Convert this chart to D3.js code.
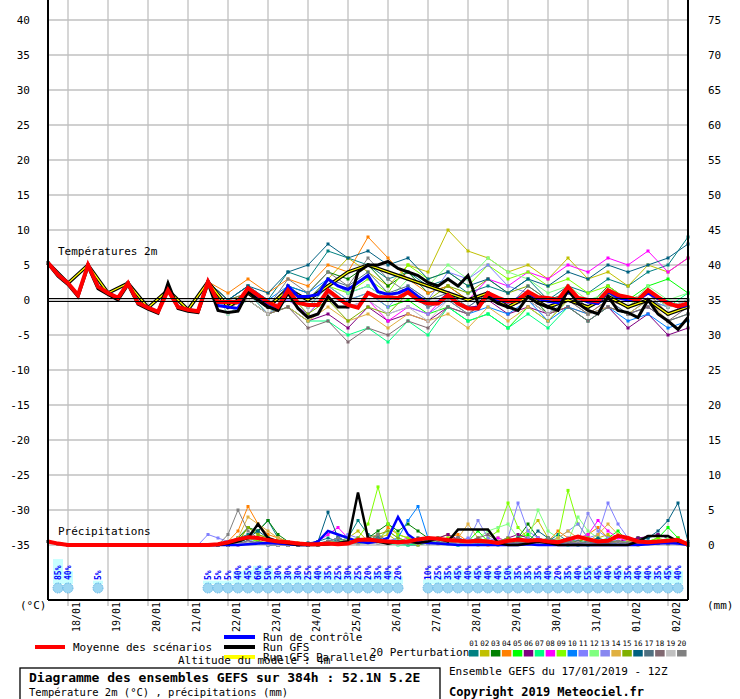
<!DOCTYPE html>
<html>
<head>
<meta charset="utf-8">
<script src="https://cdn.jsdelivr.net/npm/d3@7"></script>
<style>
body { margin: 0; background: #fff; }
text { font-family: "DejaVu Sans Mono", monospace; font-size: 11px; }
</style>
</head>
<body>
<div id="container"></div>
<script>
"use strict";

// time steps: 6h from 17/01 12Z (index 0) to 02/02 12Z (index 64)
const DAYS = ["18/01", "19/01", "20/01", "21/01", "22/01", "23/01", "24/01", "25/01",
    "26/01", "27/01", "28/01", "29/01", "30/01", "31/01", "01/02", "02/02"];
const TEMP_TICKS = [40, 35, 30, 25, 20, 15, 10, 5, 0, -5, -10, -15, -20, -25, -30, -35];
const PREC_TICKS = [75, 70, 65, 60, 55, 50, 45, 40, 35, 30, 25, 20, 15, 10, 5, 0];

const MEMBER_COLORS = ["#008080", "#c0c000", "#008000", "#ff8000", "#00ff00", "#800080", "#00ff80",
    "#ff00ff", "#80ff00", "#0080ff", "#8080ff", "#80ff80", "#8888f0", "#e0b040", "#80b000",
    "#006080", "#507080", "#806870", "#c0c0c0", "#808080"];

const tempMean = [5.3, 3.6, 2.4, 0.7, 5, 1.9, 1, 0.3, 2.4, -0.4, -1.1, -1.7, 1.4, -1, -1.4, -1.6, 2.6,
    -0.3, -0.3, -0.3, 1.7, 0.7, -0.3, -1, 1.4, -0.4, -0.7, -0.7, 1.4, 0.3, -0.7, -1.1, 1,
    0.4, 0.4, 0.3, 1.1, 0, -0.5, -0.5, 0.7, -0.5, -1.2, -1.2, 1, 0.3, -0.2, 0, 1.2, 0.4, 0.3, 0,
    1.9, 0.3, 0, -0.2, 1.4, 0.7, 0.4, 0, 1.4, 0.4, -0.5, -0.9, -0.5];
const tempControl = tempMean.slice(0, 17).concat([-0.8, -1, -1.2, 1.5, 0.5, -0.5, -1.2, 2, 0.5, 0.5, 0.8, 3, 2, 1.5, 2.5, 3.5,
    1.2, 0.8, 1, 1.6, 0.5, -0.5, -0.3, 0.8, -0.5, -1.2, -1, 0.8, 0, -0.3, 0.2, 1, 0.2, -0.2, -0.4, 1.2,
    0.3, -0.3, -0.5, 1.2, 0.3, 0, 0, 1.0, 0.2, -0.3, -1, -0.8]);
const tempGfs = [5.2, 3.4, 2.2, 0.5, 4.8, 1.6, 0.8, 0, 2.2, -0.6, -1.3, -1.9, 2.4, -1.2, -1.6, -1.8, 2.4,
    -1.5, -1.8, -1.6, 1.2, 0, -1, -1.5, 1, -1.2, -2.5, -2, 0.5, -1, -1, 4, 5,
    5, 5.5, 4.5, 4, 3.5, 2.5, 2, 3, 2, 3.5, -0.5, 0.5, -0.5, -1, -1.5, 0.5, -0.5, -1, -1.5, 1.5,
    -0.5, -1.5, -2, 0.5, -1.5, -1.8, -2.5, 0, -2, -3, -4.2, -2.5];

// perturbations: 12h steps; shared start then per member
const tempEarly12 = [5.3, 2.4, 5, 1, 2.4, -1.1, 1.4, -1.4, 2.6];
const tempParallel = [-1, 1, -1, 1.5, 0, 2, 4, 5, 4, 3, 2, 1, 0, 1, -1, 0.5, -1, 0, -1, 0.5, -1, 0, -2, -1];
const tempMembers = [
    [0, 2, 0, 4, 3, 7, 6, 5, 3, 4, 2, 3, 1, 2, 1, 3, 0, 2, 1, 3, 2, 4, 5, 9],
    [0, 2, -1, 1, 0, 3, 6, 4, 2, 5, 4, 10, 7, 6, 4, 5, 3, 6, 3, 4, 2, 5, 4, 6],
    [-1, 1, -1, 2, 1, 4, 3, 5, 2, 4, 1, 2, 0, 1, -1, 1, -2, 0, -1, 2, 0, 1, -1, 0],
    [1, 3, 1, 3, 2, 5, 4, 9, 6, 3, 1, 2, 0, 1, -1, 0, -2, -1, -2, 0, -1, 1, -2, -1],
    [-1, 1, -2, 0, -1, 2, 0, 1, -1, 0, -2, -1, -3, -2, -4, -1, -3, 0, -1, 1, 0, 2, 3, 1],
    [-1, 0, -2, -1, -3, -2, -4, -1, -3, -2, -3, -1, -2, 0, -2, -1, -2, -1, -3, -1, -4, -2, -5, -4],
    [-2, 0, -2, -1, -3, -3, -5, -4, -6, -3, -5, -1, -3, -2, -4, -2, -4, -1, -3, -1, -2, 0, -1, 1],
    [0, 1, -1, 0, -2, 1, -1, 0, -3, -1, -2, 1, 0, 3, 2, 4, 3, 5, 4, 6, 5, 7, 4, 6],
    [-1, 1, -1, 1, 0, 2, 1, 3, 1, 5, 3, 4, 2, 5, 3, 4, 2, 3, 1, 2, 0, 1, -1, 0],
    [0, 2, 0, 2, 1, 3, 1, 2, 0, 1, -1, 0, -2, -1, -2, 0, -3, -1, -2, -1, -3, -2, -4, -3],
    [0, 1, -1, 1, -1, 2, 0, 1, -1, 2, 0, 4, 3, 5, 2, 1, -1, 0, -2, -1, -2, 0, -1, 0],
    [-1, 0, -2, 1, 0, 3, 1, 2, 0, 3, 2, 5, 3, 6, 4, 3, 1, 2, 0, 1, -1, 2, 0, 1],
    [-1, 1, -2, 0, -2, 1, -1, 0, -2, -1, -2, 0, -1, 1, -1, 0, -2, 1, -1, 0, -2, -1, -3, -2],
    [-1, 0, -2, -1, -3, -1, -3, -2, -4, -2, -3, -2, -4, -1, -3, -1, -3, 0, -2, -1, -2, 0, -3, -2],
    [0, 1, -1, 1, -2, 0, -3, -1, -2, 1, 0, 2, 1, 3, 1, 2, 0, 1, -1, 1, -1, 0, -2, -1],
    [0, 2, 1, 4, 5, 8, 6, 7, 5, 6, 3, 4, 2, 3, 1, 3, 2, 4, 3, 5, 4, 5, 6, 8],
    [-1, 1, -1, 2, 0, 3, 2, 4, 1, 2, 0, 1, -1, 1, -1, 2, 0, 1, -1, 0, -2, -1, -3, -2],
    [-1, 0, -2, -1, -4, -3, -6, -4, -5, -3, -4, -1, -2, 0, -1, 0, -2, -1, -3, -1, -2, -1, -3, -1],
    [-2, 0, -2, 1, -1, 1, -1, 0, -2, -1, -3, 0, -2, 1, -1, 0, -2, 0, -1, 1, 0, 1, -1, 0],
    [-1, 1, -1, 3, 1, 4, 2, 6, 3, 1, -1, 0, -2, 0, -1, 1, -1, 0, -2, 0, -1, 1, -2, -1]
];

// precipitation (mm), 6h steps; early part shared, then from index 16
const precEarly = [0.5, 0.2, 0, 0, 0, 0, 0, 0, 0, 0, 0, 0, 0, 0, 0, 0];
const precMean = [0, 0.1, 0.4, 0.8, 1.1, 1, 0.7, 0.5, 0.4, 0.2, 0.1, 0.1, 0.2, 0.1, 0.2, 0.7, 0.8, 0.6, 0.5, 0.4,
    0.5, 0.8, 1, 0.9, 0.7, 0.6, 0.5, 0.6, 0.5, 0.3, 0.6, 0.8, 0.6, 0.7, 0.5, 0.4, 0.8, 1.2, 0.8, 0.5,
    0.6, 1.3, 1.0, 0.5, 0.4, 0.5, 0.6, 0.7, 0.1];
const precControl = [0, 0, 0, 0, 0.1, 0.2, 0.3, 0.2, 0.1, 0, 0, 0.5, 2, 1.5, 1, 0.5, 0.3, 0.5, 1, 4,
    1.5, 0.5, 0.3, 0.2, 0.1, 0, 0, 0, 0, 0, 0, 0, 0.1, 0, 0, 0, 0, 0, 0, 0, 0, 0, 0, 0, 0.1, 0.2, 0.3, 0.2, 0];
const precGfs = [0, 0, 0.2, 0.5, 1, 3, 1, 0.5, 0.2, 0, 0, 0, 0.1, 0.3, 0.5, 7.5, 1, 0.5, 0.2, 0.5,
    0.5, 0.3, 0.5, 1, 0.5, 2.2, 2.2, 2.2, 2.2, 0.3, 0, 0, 0.2, 0.5, 0.3, 0, 0, 0, 0, 0,
    0, 0, 0, 0.5, 1.3, 1.3, 1.3, 0.5, 0.1];
const precMembers = [
    [0, 0, 0.5, 1, 1.5, 2, 3.5, 1, 0.5, 0, 0.2, 0.5, 1, 0.5, 1, 3.5, 1.5, 1, 0.5, 0.2, 0, 0, 0.3, 0.5, 0.2, 0, 0.5, 0.3, 0.2, 0, 0.5, 1, 0.5, 0.2, 0.5, 1.5, 0.5, 0, 0, 0.2, 0.5, 0.3, 0.5, 1, 1, 1.5, 1, 0.5, 0.2],
    [0, 0, 0, 0.5, 2.5, 1.5, 1, 0.5, 0, 0, 0, 0.3, 0.2, 0.5, 1, 2, 0.5, 1, 1.5, 0.5, 0.3, 0, 0.5, 1, 1.5, 0.5, 0.2, 0, 0.5, 1, 0.5, 1, 2, 3.5, 1, 0.5, 0.3, 0.2, 0.5, 1, 1.5, 0.5, 0.3, 0, 0.2, 0.5, 0.8, 1, 0],
    [0, 0, 0.3, 1, 2.5, 2, 3.5, 1.5, 0.5, 0, 0, 0.2, 0.5, 1, 0.5, 0.3, 1, 2, 3, 2, 3, 2, 1, 0.5, 0.3, 0.2, 0.5, 1, 0.5, 0.2, 0.5, 1, 3, 1, 0.5, 0.2, 0.3, 0.5, 1, 0.5, 0.3, 0.2, 0.5, 1, 0.5, 0.3, 0.2, 0.5, 0],
    [0, 0, 0.5, 2, 5.5, 3, 1.5, 1, 0.5, 0.3, 0.2, 0, 0.3, 0.5, 0.2, 0.5, 1, 0.5, 2.5, 1.5, 1, 0.5, 0.3, 0.5, 1, 1.5, 0.5, 0.2, 0, 0.3, 0.5, 1, 0.5, 0.3, 0.5, 2, 1, 0.5, 1.5, 2.5, 1, 0.5, 0.3, 0.2, 0.5, 0.3, 0.5, 1, 0.2],
    [0, 0, 0, 0.3, 1, 0.5, 0.2, 0, 0, 0, 0, 0.1, 0.2, 0.5, 0.3, 0.2, 0.5, 1, 0.5, 0.3, 0.2, 0.5, 1, 0.5, 0.2, 0.3, 0.5, 2, 0.5, 0.3, 0.5, 1, 1.5, 0.5, 0.3, 0.5, 0.8, 0.5, 0.3, 0.5, 1, 2, 0.5, 0.3, 0.5, 1, 2.5, 1, 0],
    [0, 0, 0, 0, 0.2, 0.5, 0.3, 0.2, 0, 0, 0, 0, 0.2, 0.3, 0.5, 0.2, 0.5, 1, 0.5, 0.3, 0.2, 0.3, 0.5, 1, 1.5, 0.8, 0.5, 0.3, 0.2, 0.5, 1, 1.5, 1, 0.5, 0.3, 0.2, 0.5, 0.3, 0.2, 0.5, 0.3, 0.5, 0.8, 1, 1.2, 1.5, 1, 0.5, 0],
    [0, 0, 0, 0.2, 0.5, 0.3, 0, 0, 0, 0, 0, 0, 0.3, 0.5, 0.3, 0.2, 0.3, 0.5, 0.2, 0, 0, 0.2, 0.5, 0.3, 0.2, 0, 0.3, 0.5, 0.2, 0.3, 0.5, 0.3, 0.2, 0.5, 0.3, 0.2, 0, 0.3, 0.5, 0.2, 0.3, 0.2, 0.5, 0.3, 0.2, 0.3, 0.5, 0.3, 0],
    [0, 0, 0, 0.2, 0.5, 0.3, 0.2, 0, 0, 0, 0, 0.5, 1.5, 2.5, 1, 0.5, 1, 0.5, 0.3, 0.5, 1, 0.5, 0.3, 0.2, 0.5, 1, 0.5, 0.3, 0.5, 1, 0.5, 0.3, 0.5, 1, 0.5, 0.3, 0.5, 1, 1.5, 3.5, 2, 1, 0.5, 0.3, 0.2, 0.5, 0.3, 0.2, 0],
    [0, 0, 0, 0.5, 1, 0.5, 0.3, 0.2, 0, 0, 0, 0.2, 0.5, 1, 0.5, 1, 3, 8.3, 3, 1.5, 1, 0.5, 0.3, 0.5, 1, 0.5, 0.3, 0.5, 1, 2, 6, 2.5, 1, 0.5, 0.3, 1, 7.8, 3, 1, 0.5, 0.3, 0.5, 0.2, 0.3, 0.5, 1, 0.5, 0.3, 0],
    [0, 0, 0, 0.2, 0.5, 0.3, 0.2, 0, 0, 0, 0, 0.3, 0.5, 1, 0.5, 0.3, 1, 1.5, 0.5, 1, 3.5, 5.5, 1, 0.5, 0.3, 0.2, 0.5, 0.3, 0.2, 0.3, 0.5, 1, 0.5, 0.3, 0.2, 0.5, 0.3, 0.2, 0.5, 0.3, 0.2, 0.3, 0.5, 0.3, 0.2, 0.5, 0.3, 0.2, 0],
    [1.5, 1, 0.5, 0.3, 0.5, 1, 0.5, 0.2, 0, 0, 0, 0.2, 0.5, 1, 1.5, 1, 0.5, 0.3, 0.5, 1, 0.5, 0.3, 0.2, 0.5, 0.3, 0.5, 1, 0.5, 0.3, 0.5, 1, 6, 2, 1, 0.5, 1, 2, 3, 1, 1.5, 6, 3, 1, 0.5, 0.3, 0.5, 0.2, 0.3, 0],
    [0, 0, 0, 0.2, 0.5, 0.3, 0.2, 0, 0, 0, 0, 0.2, 0.3, 0.5, 1, 0.5, 0.3, 1, 2, 1, 0.5, 0.3, 0.2, 0.5, 0.3, 0.5, 0.3, 1, 2, 2.5, 3, 1, 0.5, 5, 2, 1, 0.5, 4, 2, 1, 0.5, 0.3, 0.5, 0.3, 0.2, 0.5, 1, 0.5, 0],
    [0, 0, 0, 0.2, 0.4, 0.3, 0, 0, 0, 0, 0, 0, 0.3, 0.5, 0.3, 0.5, 1, 0.5, 0.3, 0.5, 0.5, 0.3, 0.2, 1, 0.5, 0.3, 0.5, 3.5, 1, 0.5, 0.3, 0.5, 1, 0.5, 0.3, 0.5, 1, 0.5, 4.5, 2, 1, 0.5, 0.3, 0.2, 0.5, 0.3, 0.2, 0.5, 0],
    [0, 0, 0, 1, 4, 3, 2, 1, 0.5, 0.3, 0.2, 0, 0.3, 0.5, 0.3, 0.5, 1, 1.5, 0.5, 0.3, 0.5, 1, 0.5, 0.3, 0.5, 1, 3, 1, 0.5, 0.3, 0.5, 0.3, 0.2, 0.5, 0.3, 1, 2, 1, 0.5, 1.5, 3, 1.5, 0.5, 0.3, 0.5, 0.3, 0.2, 0.5, 0],
    [0, 0, 0, 0.5, 2.5, 1.5, 1, 0.5, 0, 0, 0, 0.2, 0.5, 0.3, 0.5, 1, 0.5, 1.5, 2, 1, 0.5, 0.3, 0.5, 1, 0.5, 0.3, 0.2, 0.5, 0.3, 0.5, 1, 0.5, 0.3, 0.5, 1, 0.5, 0.3, 0.5, 1, 0.5, 0.3, 0.5, 0.3, 0.2, 0.5, 0.3, 0.2, 0.5, 0],
    [0, 0, 0, 0.3, 1, 2, 1, 0.5, 0.3, 0.2, 0.3, 0.5, 4.7, 1, 0.5, 0.3, 0.5, 1, 0.5, 0.3, 0.5, 1, 0.5, 0.3, 0.5, 1, 0.5, 0.3, 0.2, 0.5, 0.5, 1, 0.5, 2, 1, 0.5, 0.3, 0.2, 0.5, 1, 0.5, 0.3, 0.2, 0.5, 1, 2, 3.5, 6, 0.5],
    [0, 0, 0, 0.3, 0.5, 0.3, 0.2, 0, 0, 0, 0, 0.2, 0.3, 0.5, 0.3, 0.2, 0.5, 1, 0.5, 0.3, 0.2, 0.3, 0.5, 0.3, 0.2, 0.5, 0.3, 0.2, 0.5, 0.3, 0.2, 0.5, 0.3, 0.2, 0.5, 0.3, 0.2, 0.5, 0.3, 0.2, 0.5, 0.3, 0.2, 0.5, 0.3, 0.2, 0.5, 0.3, 0],
    [0, 0, 0, 0.2, 0.5, 0.3, 0, 0, 0, 0, 0, 0, 0.2, 0.3, 0.5, 0.3, 0.5, 0.3, 0.2, 0.3, 0.5, 0.3, 0.2, 0.3, 0.5, 0.3, 0.5, 1, 1.5, 0.5, 0.3, 0.2, 0.5, 0.3, 0.2, 0.3, 0.5, 0.3, 0.2, 0.3, 0.5, 0.3, 0.2, 0.3, 0.5, 0.3, 0.2, 0.3, 0],
    [0, 0, 0, 0.2, 0.3, 0.2, 0.1, 0, 0, 0, 0, 0.1, 0.2, 0.3, 0.2, 0.1, 0.2, 0.3, 0.2, 0.1, 0.2, 0.3, 0.2, 0.1, 0.2, 0.3, 0.2, 0.1, 0.2, 0.3, 0.2, 0.1, 0.2, 0.3, 0.2, 0.1, 0.2, 0.3, 0.2, 0.1, 0.2, 0.3, 0.2, 0.1, 0.2, 0.3, 0.2, 0.1, 0],
    [0, 0, 1.5, 5, 2, 1, 0.5, 0.3, 0.2, 0, 0, 0.2, 0.5, 1, 0.5, 0.3, 0.5, 1.5, 0.5, 0.3, 0.2, 0.5, 0.3, 0.2, 0.5, 1, 0.5, 0.3, 0.2, 0.5, 0.3, 0.2, 0.5, 0.3, 1, 0.5, 0.3, 0.2, 0.5, 0.3, 0.2, 0.5, 0.3, 0.2, 0.5, 0.3, 0.2, 0.5, 0]
];

// chance of snow (%) per 6h step
const snowSteps = [1, 2, 5, 16, 17, 18, 19, 20, 21, 22, 23, 24, 25, 26, 27, 28, 29, 30, 31, 32, 33, 34, 35,
    38, 39, 40, 41, 42, 43, 44, 45, 46, 47, 48, 49, 50, 51, 52, 53, 54, 55, 56, 57, 58, 59, 60, 61, 62, 63];
const snowPct = [85, 40, 5, 5, 5, 5, 40, 45, 60, 50, 30, 30, 30, 25, 40, 35, 25, 30, 25, 20, 35, 40, 20,
    10, 25, 35, 45, 40, 45, 40, 40, 50, 35, 35, 35, 40, 20, 35, 40, 55, 45, 40, 45, 35, 40, 40, 35, 45, 40];

const WIDTH = 740;
const HEIGHT = 699;
const LEFT = 48, RIGHT = 688, BOTTOM = 600;

const SVG = d3.select("#container").append("svg")
    .attr("width", WIDTH).attr("height", HEIGHT);

const x = d3.scaleLinear().domain([0, 64]).range([LEFT, RIGHT]);
const yT = d3.scaleLinear().domain([0, 40]).range([300, 20]);
const yP = d3.scaleLinear().domain([0, 75]).range([yT(-35), yT(40)]);

function from12h(arr) {
    return arr.map((v, k) => [k * 2, v]);
}
function from6h(arr, start) {
    return arr.map((v, i) => [i + start, v]);
}

drawGrid();
drawSnow();
drawTemps();
drawPrecip();
drawFrame();
drawLegend();

function drawGrid() {
    const g = SVG.append("g").attr("stroke", "#c0c0c0").attr("stroke-width", 1.3);
    TEMP_TICKS.forEach(t => {
        g.append("line").attr("x1", LEFT).attr("x2", RIGHT)
            .attr("y1", yT(t)).attr("y2", yT(t));
    });
    DAYS.forEach((d, i) => {
        const xx = x(2 + i * 4);
        g.append("line").attr("x1", xx).attr("x2", xx).attr("y1", 0).attr("y2", BOTTOM + 6);
    });
    SVG.append("g").selectAll("text").data(TEMP_TICKS).join("text")
        .attr("x", 30).attr("y", d => yT(d) + 4).attr("text-anchor", "end").text(d => d);
    SVG.append("g").selectAll("text").data(PREC_TICKS).join("text")
        .attr("x", 708).attr("y", d => yP(d) + 4).text(d => d);
    SVG.append("g").selectAll("text").data(DAYS).join("text")
        .attr("transform", (d, i) => `translate(${x(2 + i * 4) + 12},632) rotate(-90)`)
        .style("font-size", "10px")
        .text(d => d);
    SVG.append("text").attr("x", 20).attr("y", 609).text("(°C)");
    SVG.append("text").attr("x", 707).attr("y", 609).text("(mm)");
    SVG.append("text").attr("x", 58).attr("y", 255).text("Températures 2m");
    SVG.append("text").attr("x", 58).attr("y", 535).text("Précipitations");
}

function drawSnow() {
    const g = SVG.append("g");
    snowSteps.forEach((s, i) => {
        const p = snowPct[i];
        g.append("rect").attr("x", x(s) - 5).attr("width", 10)
            .attr("y", 582 - p * 0.27).attr("height", p * 0.27 + 2).attr("fill", "#c8ffff");
    });
    snowSteps.forEach(s => {
        g.append("circle").attr("cx", x(s)).attr("cy", 588).attr("r", 5)
            .attr("fill", "#9cd6f2").attr("stroke", "#5ab4e6").attr("stroke-dasharray", "1.5,1");
    });
    g.selectAll("text").data(snowSteps).join("text")
        .attr("transform", s => `translate(${x(s) + 3},580) rotate(-90)`)
        .style("font-size", "8px").attr("fill", "#0000ff").attr("font-weight", "bold")
        .text((s, i) => snowPct[i] + "%");
}

function drawSeries(g, pts, y, color, width, dots) {
    const line = d3.line().x(d => x(d[0])).y(d => y(d[1]));
    g.append("path").attr("d", line(pts)).attr("fill", "none")
        .attr("stroke", color).attr("stroke-width", width);
    if (dots) {
        g.append("g").selectAll("rect").data(pts).join("rect")
            .attr("x", d => x(d[0]) - 1.5).attr("y", d => y(d[1]) - 1.5)
            .attr("width", 3).attr("height", 3).attr("fill", color);
    }
}

function drawTemps() {
    const g = SVG.append("g");
    SVG.append("line").attr("x1", LEFT).attr("x2", RIGHT).attr("y1", yT(0) - 1.5).attr("y2", yT(0) - 1.5)
        .attr("stroke", "#000").attr("stroke-width", 1.2);
    SVG.append("line").attr("x1", LEFT).attr("x2", RIGHT).attr("y1", yT(0) + 1.5).attr("y2", yT(0) + 1.5)
        .attr("stroke", "#000").attr("stroke-width", 1.2);
    tempMembers.forEach((m, i) => {
        drawSeries(g, from12h(tempEarly12.concat(m)), yT, MEMBER_COLORS[i], 1, true);
    });
    const par = from12h(tempEarly12.concat(tempParallel));
    drawSeries(g, par, yT, "#000", 3.5, false);
    drawSeries(g, par, yT, "#ffff00", 1.3, false);
    drawSeries(g, from6h(tempControl, 0), yT, "#0000ff", 3, false);
    drawSeries(g, from6h(tempGfs, 0), yT, "#000", 3, false);
    drawSeries(g, from6h(tempMean, 0), yT, "#ff0000", 4, false);
}

function drawPrecip() {
    const g = SVG.append("g");
    precMembers.forEach((m, i) => {
        drawSeries(g, from6h(precEarly.concat(m), 0), yP, MEMBER_COLORS[i], 1, true);
    });
    drawSeries(g, from6h(precEarly.concat(precControl), 0), yP, "#0000ff", 2.5, false);
    drawSeries(g, from6h(precEarly.concat(precGfs), 0), yP, "#000", 2.5, false);
    drawSeries(g, from6h(precEarly.concat(precMean), 0), yP, "#ff0000", 4, false);
}

function drawFrame() {
    const g = SVG.append("g").attr("stroke", "#000").attr("stroke-width", 2);
    g.append("line").attr("x1", LEFT).attr("x2", LEFT).attr("y1", 0).attr("y2", BOTTOM);
    g.append("line").attr("x1", RIGHT).attr("x2", RIGHT).attr("y1", 0).attr("y2", BOTTOM);
    g.append("line").attr("x1", LEFT).attr("x2", RIGHT).attr("y1", BOTTOM).attr("y2", BOTTOM);
}

function drawLegend() {
    SVG.append("rect").attr("x", 35).attr("y", 645).attr("width", 30).attr("height", 4).attr("fill", "#ff0000");
    SVG.append("text").attr("x", 73).attr("y", 651).text("Moyenne des scénarios");
    [["#0000ff", "Run de contrôle"], ["#000", "Run GFS"], ["#ffff00", "Run GFS Parallele"]].forEach((d, i) => {
        SVG.append("rect").attr("x", 224).attr("y", 635 + i * 10).attr("width", 31).attr("height", 4).attr("fill", d[0]);
        SVG.append("text").attr("x", 263).attr("y", 641 + i * 10).text(d[1]);
    });
    SVG.append("text").attr("x", 178).attr("y", 664).text("Altitude du modèle : 4m");
    SVG.append("text").attr("x", 370).attr("y", 656).text("20 Perturbations");
    MEMBER_COLORS.forEach((c, i) => {
        const bx = 469 + i * 10.95;
        SVG.append("rect").attr("x", bx).attr("y", 650).attr("width", 9.5).attr("height", 6.5).attr("fill", c);
        SVG.append("text").attr("x", bx + 4.7).attr("y", 646).attr("text-anchor", "middle")
            .style("font-size", "7.5px").text(String(i + 1).padStart(2, "0"));
    });
    SVG.append("rect").attr("x", 20).attr("y", 668).attr("width", 420).attr("height", 40)
        .attr("fill", "none").attr("stroke", "#000").attr("stroke-width", 1.3);
    SVG.append("text").attr("x", 29).attr("y", 682).attr("font-weight", "bold").style("font-size", "13px")
        .text("Diagramme des ensembles GEFS sur 384h : 52.1N 5.2E");
    SVG.append("text").attr("x", 29).attr("y", 696).style("font-size", "10.5px")
        .text("Température 2m (°C) , précipitations (mm)");
    SVG.append("text").attr("x", 449).attr("y", 675).text("Ensemble GEFS du 17/01/2019 - 12Z");
    SVG.append("text").attr("x", 449).attr("y", 696).attr("font-weight", "bold").style("font-size", "12px")
        .text("Copyright 2019 Meteociel.fr");
}
</script>
</body>
</html>
